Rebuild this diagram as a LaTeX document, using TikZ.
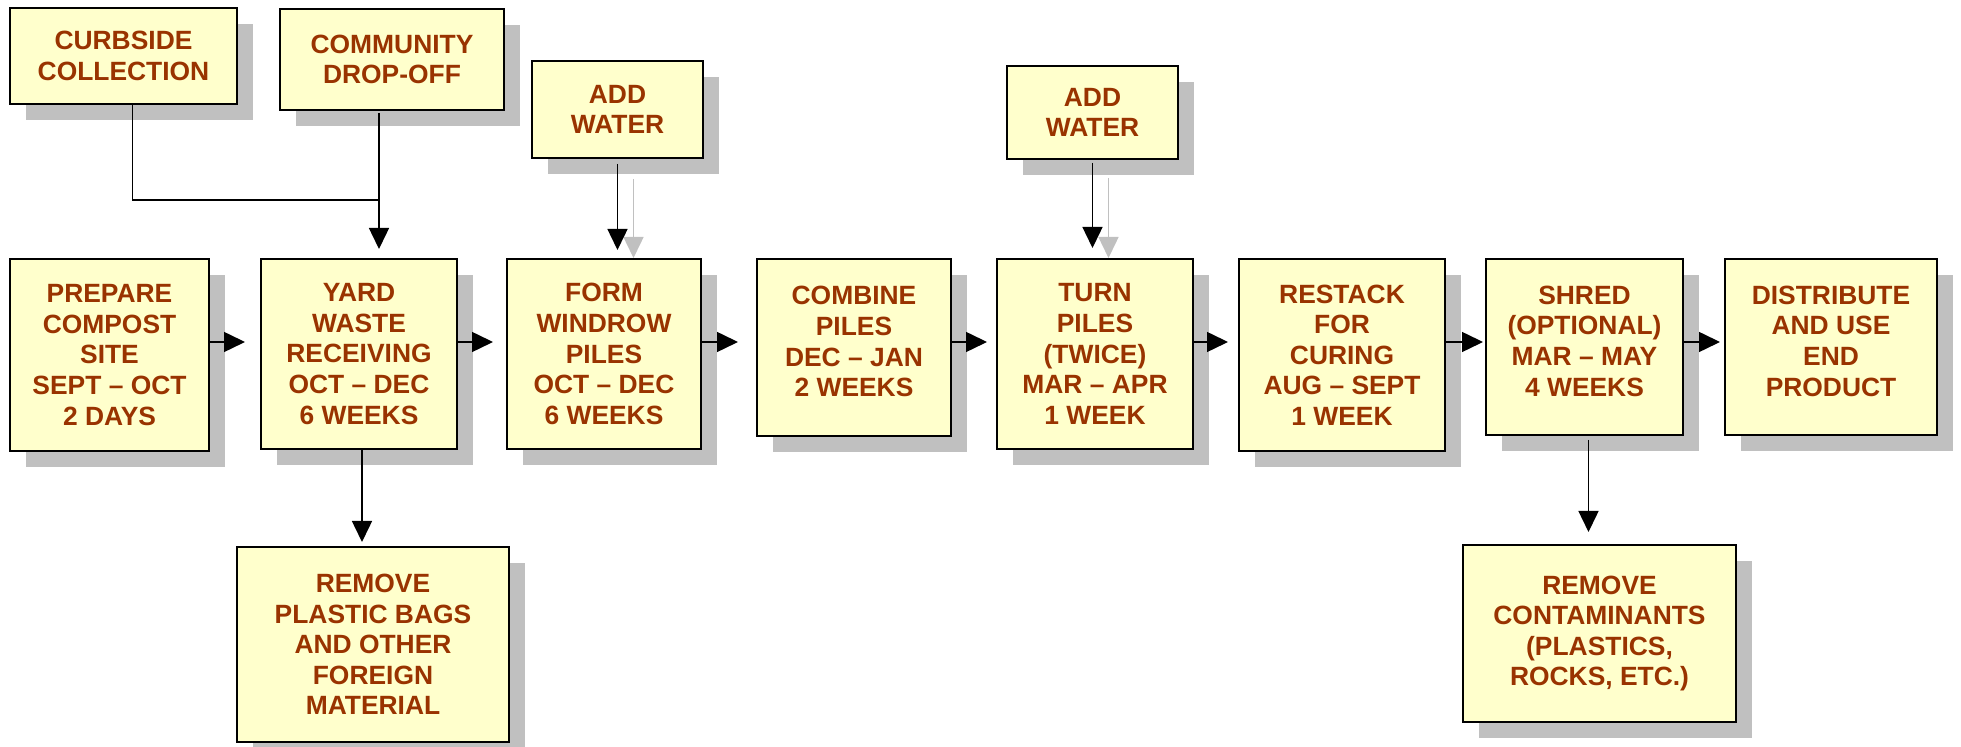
\documentclass[tikz,border=0pt]{standalone}
\usepackage{fontspec}
\setmainfont{Liberation Sans}
\usetikzlibrary{arrows.meta,shadows}
\definecolor{boxfill}{HTML}{FFFFCC}
\definecolor{boxtext}{HTML}{993300}
\definecolor{shade}{HTML}{C0C0C0}

\begin{document}
\begin{tikzpicture}[x=0.5pt, y=-0.5pt,
  stage/.style={draw=black, line width=1pt, fill=boxfill, text=boxtext,
    font=\bfseries\fontsize{13.2}{15.3}\selectfont, align=center, inner sep=0pt,
    drop shadow={shadow xshift=8pt, shadow yshift=-8pt, fill=shade, opacity=1}},
  boxsize/.style 2 args={minimum width=#1*0.5pt, minimum height=#2*0.5pt},
  raised/.style={text depth=6pt},
  flow/.style={line width=0.75pt, -{Triangle[length=10.5pt,width=10pt]}},
  ghost/.style={draw=shade, line width=0.75pt, -{Triangle[length=10.5pt,width=10pt]}},
  link/.style={line width=0.75pt}]
\useasboundingbox (0,0) rectangle (1961,747);

%% sources at the top
\node[stage, boxsize={227}{96}]  (curb)   at (123.5,56)   {CURBSIDE\\COLLECTION};
\node[stage, boxsize={224}{101}] (comm)   at (392,59.5)   {COMMUNITY\\DROP-OFF};
\node[stage, boxsize={171}{97}]  (water1) at (617.5,109.5) {ADD\\WATER};
\node[stage, boxsize={171}{93}]  (water2) at (1092.5,112.5) {ADD\\WATER};

%% main row
\node[stage, boxsize={199}{192}] (prep)    at (109.5,355) {PREPARE\\COMPOST\\SITE\\SEPT – OCT\\2 DAYS};
\node[stage, boxsize={196}{190}] (yard)    at (359,354)   {YARD\\WASTE\\RECEIVING\\OCT – DEC\\6 WEEKS};
\node[stage, boxsize={194}{190}] (form)    at (604,354)   {FORM\\WINDROW\\PILES\\OCT – DEC\\6 WEEKS};
\node[stage, raised, boxsize={194}{177}] (comb) at (854,347.5) {COMBINE\\PILES\\DEC – JAN\\2 WEEKS};
\node[stage, boxsize={196}{190}] (turn)    at (1095,354)  {TURN\\PILES\\(TWICE)\\MAR – APR\\1 WEEK};
\node[stage, boxsize={206}{192}] (restack) at (1342,355)  {RESTACK\\FOR\\CURING\\AUG – SEPT\\1 WEEK};
\node[stage, raised, boxsize={197}{176}] (shred) at (1584.5,347) {SHRED\\(OPTIONAL)\\MAR – MAY\\4 WEEKS};
\node[stage, raised, boxsize={212}{176}] (dist)  at (1831,347)  {DISTRIBUTE\\AND USE\\END\\PRODUCT};

%% side steps below
\node[stage, boxsize={272}{195}] (plastic) at (373,644.5)  {REMOVE\\PLASTIC BAGS\\AND OTHER\\FOREIGN\\MATERIAL};
\node[stage, boxsize={273}{177}] (contam)  at (1599.5,633.5) {REMOVE\\CONTAMINANTS\\(PLASTICS,\\ROCKS, ETC.)};

\coordinate (row) at (0,342);
\coordinate (join) at (379,200);

\foreach \a/\b/\g in {prep/yard/7.5, yard/form/6.5, form/comb/9, comb/turn/4.5,
                      turn/restack/5, restack/shred/1, shred/dist/2}
  \draw[flow, shorten >=\g pt] (\a.east |- row) -- (\b.west |- row);

\draw[link] ([xshift=4.5pt]curb.south) -- ([xshift=4.5pt]curb.south |- join) -- (join);
\draw[flow, shorten <=1pt, shorten >=4.5pt] (comm.south -| join) -- (yard.north -| join);

\draw[ghost, shorten <=10pt] ([xshift=8pt]water1.south) -- ([xshift=8pt]water1.south |- form.north);
\draw[flow, shorten <=2.5pt, shorten >=4pt] (water1.south) -- (water1.south |- form.north);
\draw[ghost, shorten <=9pt] ([xshift=8pt]water2.south) -- ([xshift=8pt]water2.south |- turn.north);
\draw[flow, shorten <=1.5pt, shorten >=5pt] (water2.south) -- (water2.south |- turn.north);

\draw[flow, shorten >=2pt] ([xshift=1.5pt]yard.south) -- ([xshift=1.5pt]yard.south |- plastic.north);
\draw[flow, shorten <=2pt, shorten >=6pt] ([xshift=2pt]shred.south) -- ([xshift=2pt]shred.south |- contam.north);

\end{tikzpicture}
\end{document}
